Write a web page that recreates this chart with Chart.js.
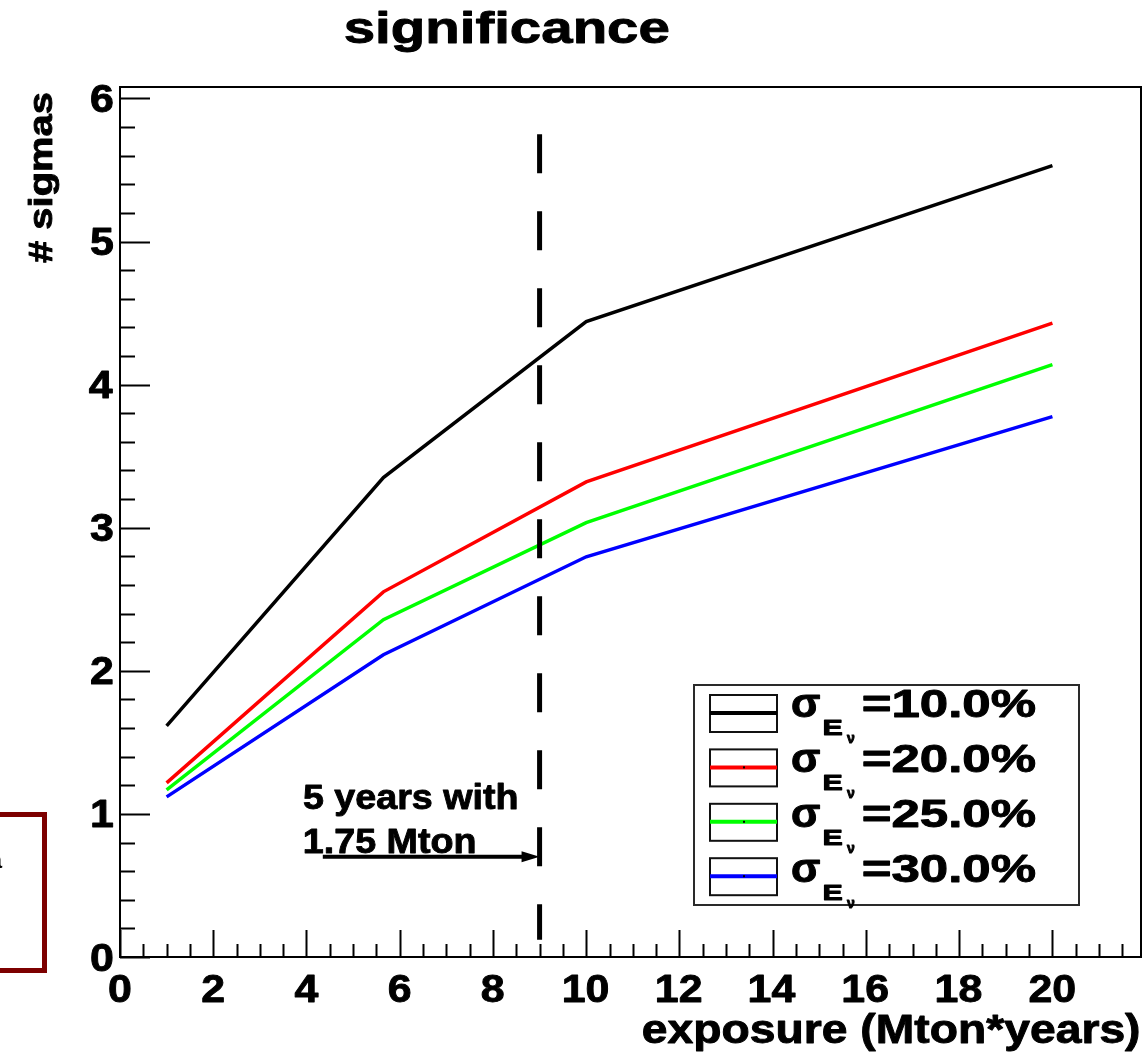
<!DOCTYPE html>
<html>
<head>
<meta charset="utf-8">
<title>significance</title>
<script src="https://cdn.jsdelivr.net/npm/chart.js@4.4.1/dist/chart.umd.min.js"></script>
<style>
  html, body { margin: 0; padding: 0; background: #ffffff; }
  #wrap { position: relative; width: 1144px; height: 1052px; overflow: hidden; background: #ffffff; }
  #c { position: absolute; left: 0; top: 0; }
  #note { position: absolute; left: -20px; top: 812px; width: 57px; height: 151px;
          border: 5px solid #7d0000; box-sizing: content-box; }
  #noteText { position: absolute; right: 1142px; top: 846px; font: bold 24px "Liberation Sans", Arial, sans-serif;
              color: #000; white-space: nowrap; }
</style>
</head>
<body>
<div id="wrap">
  <canvas id="c" width="1144" height="1052"></canvas>
  <div id="note"></div>
  <div id="noteText">a</div>
</div>
<script>
// exposure in Mton*years and the significance (# sigmas) for each energy resolution
const exposure = [1, 5.65, 10, 20];
const sigma10 = [1.615, 3.35, 4.44, 5.53];
const sigma20 = [1.217, 2.552, 3.32, 4.43];
const sigma25 = [1.168, 2.357, 3.035, 4.14];
const sigma30 = [1.119, 2.112, 2.797, 3.776];
const resolutionLabels = ['=10.0%', '=20.0%', '=25.0%', '=30.0%'];
const seriesColors = ['#000000', '#ff0000', '#00ff00', '#0000ff'];

// axis ticks
const xTickValues = [0, 2, 4, 6, 8, 10, 12, 14, 16, 18, 20];
const xTickLabels = ['0', '2', '4', '6', '8', '10', '12', '14', '16', '18', '20'];
const yTickValues = [0, 1, 2, 3, 4, 5, 6];
const yTickLabels = ['0', '1', '2', '3', '4', '5', '6'];

// reference exposure: 5 years with 1.75 Mton
const refExposure = 9;
const refSpan = [5.75, 0.12];
const arrowFrom = 4.35;
const arrowLevel = 0.70;

const FONT = '"Liberation Sans", Arial, Helvetica, sans-serif';

function toPoints(xs, ys) { return xs.map((x, i) => ({ x: x, y: ys[i] })); }

// fills and lightly strokes the text so it reads as heavy as the axis lines
function heavyFill(ctx, text) {
  ctx.fillStyle = '#000';
  ctx.strokeStyle = '#000';
  ctx.lineWidth = 0.9;
  ctx.lineJoin = 'round';
  ctx.fillText(text, 0, 0);
  ctx.strokeText(text, 0, 0);
}

// draws text horizontally stretched so its ink spans exactly `width` px from `left`
function inkText(ctx, text, left, baseline, width, size, weight) {
  ctx.save();
  ctx.font = (weight || 'bold') + ' ' + size + 'px ' + FONT;
  const m = ctx.measureText(text);
  const inkW = m.actualBoundingBoxLeft + m.actualBoundingBoxRight;
  const k = width / inkW;
  ctx.translate(left + m.actualBoundingBoxLeft * k, baseline);
  ctx.scale(k, 1);
  ctx.textAlign = 'left';
  ctx.textBaseline = 'alphabetic';
  heavyFill(ctx, text);
  ctx.restore();
}

// draws text with a fixed horizontal stretch, aligned by its ink box
function stretchText(ctx, text, x, baseline, size, k, align) {
  ctx.save();
  ctx.font = 'bold ' + size + 'px ' + FONT;
  const m = ctx.measureText(text);
  const inkW = (m.actualBoundingBoxLeft + m.actualBoundingBoxRight) * k;
  let left = x;
  if (align === 'center') left = x - inkW / 2;
  else if (align === 'right') left = x - inkW;
  ctx.translate(left + m.actualBoundingBoxLeft * k, baseline);
  ctx.scale(k, 1);
  ctx.textAlign = 'left';
  ctx.textBaseline = 'alphabetic';
  heavyFill(ctx, text);
  ctx.restore();
}

function digitStretch(ctx, size, targetInk) {
  ctx.save();
  ctx.font = 'bold ' + size + 'px ' + FONT;
  const m = ctx.measureText('0');
  ctx.restore();
  return targetInk / (m.actualBoundingBoxLeft + m.actualBoundingBoxRight);
}

const rootStyle = {
  id: 'rootStyle',
  afterDraw(chart) {
    const ctx = chart.ctx;
    const a = chart.chartArea;
    const xs = chart.scales.x;
    const ys = chart.scales.y;

    ctx.save();
    ctx.strokeStyle = '#000';
    ctx.lineCap = 'butt';

    // frame
    ctx.lineWidth = 2;
    ctx.strokeRect(a.left, a.top, a.right - a.left, a.bottom - a.top);

    // x ticks (inward, major every 2, minor every 0.5)
    ctx.beginPath();
    for (let v = 0; v <= xs.max + 1e-9; v += 0.5) {
      const px = Math.round(xs.getPixelForValue(v)) + 0.5;
      const major = Math.abs(v / 2 - Math.round(v / 2)) < 1e-6;
      const len = major ? 27 : 13;
      ctx.moveTo(px, a.bottom);
      ctx.lineTo(px, a.bottom - len);
    }
    // y ticks (inward, major every 1, minor every 0.2)
    for (let i = 0; i <= 30; i++) {
      const v = i * 0.2;
      if (v > ys.max) break;
      const py = Math.round(ys.getPixelForValue(v)) + 0.5;
      const major = i % 5 === 0;
      const len = major ? 30 : 15;
      ctx.moveTo(a.left, py);
      ctx.lineTo(a.left + len, py);
    }
    ctx.stroke();

    // tick labels
    const tickSize = 39;
    const kd = digitStretch(ctx, tickSize, 22);
    xTickValues.forEach((v, i) => {
      stretchText(ctx, xTickLabels[i], xs.getPixelForValue(v), a.bottom + 45, tickSize, kd, 'center');
    });
    yTickValues.forEach((v, i) => {
      stretchText(ctx, yTickLabels[i], a.left - 7, ys.getPixelForValue(v) + 13.5, tickSize, kd, 'right');
    });

    // title and axis titles
    inkText(ctx, 'significance', 345, 43, 323, 44);
    inkText(ctx, 'exposure (Mton*years)', 643, 1043, 496, 40);
    ctx.save();
    ctx.translate(52, 263);
    ctx.rotate(-Math.PI / 2);
    inkText(ctx, '# sigmas', 0, 0, 170, 34);
    ctx.restore();

    // annotation and arrow
    inkText(ctx, '5 years with', 304, 809, 213, 35);
    inkText(ctx, '1.75 Mton', 305, 853, 170, 35);
    const ax0 = xs.getPixelForValue(arrowFrom);
    const ax1 = xs.getPixelForValue(refExposure);
    const ay = ys.getPixelForValue(arrowLevel);
    ctx.strokeStyle = '#000';
    ctx.lineWidth = 4;
    ctx.beginPath();
    ctx.moveTo(ax0, ay);
    ctx.lineTo(ax1 - 14, ay);
    ctx.stroke();
    ctx.fillStyle = '#000';
    ctx.beginPath();
    ctx.moveTo(ax1, ay);
    ctx.lineTo(ax1 - 18, ay - 5.5);
    ctx.lineTo(ax1 - 18, ay + 5.5);
    ctx.closePath();
    ctx.fill();

    // legend
    ctx.fillStyle = '#fff';
    ctx.fillRect(694, 685, 385, 220);
    ctx.lineWidth = 2;
    ctx.strokeStyle = '#2a2a2a';
    ctx.strokeRect(694, 685, 385, 220);
    for (let i = 0; i < 4; i++) {
      const bt = 695 + 54.4 * i;
      ctx.lineWidth = 2;
      ctx.strokeStyle = '#111';
      ctx.strokeRect(710, bt, 67, 37);
      const cy = bt + 18;
      ctx.strokeStyle = seriesColors[i];
      ctx.lineWidth = 4;
      ctx.beginPath();
      ctx.moveTo(710, cy);
      ctx.lineTo(777, cy);
      ctx.stroke();
      if (i > 0) {
        ctx.fillStyle = '#000';
        ctx.fillRect(743, cy - 1, 2, 2);
      }
      const base = 717 + 55 * i;
      inkText(ctx, '\u03C3', 792, base, 28, 40);
      inkText(ctx, 'E', 824, base + 18, 18, 22);
      inkText(ctx, '\u03BD', 847, base + 26, 8, 14);
      inkText(ctx, resolutionLabels[i], 863, base, 172, 38);
    }
    ctx.restore();
  }
};

const series = [sigma10, sigma20, sigma25, sigma30].map((ys, i) => ({
  label: resolutionLabels[i],
  data: toPoints(exposure, ys),
  borderColor: seriesColors[i],
  backgroundColor: seriesColors[i],
  borderWidth: 3.5,
  pointRadius: 0,
  tension: 0,
  fill: false
}));

new Chart(document.getElementById('c').getContext('2d'), {
  type: 'line',
  data: {
    datasets: [
      {
        label: '5 years with 1.75 Mton',
        data: [{ x: refExposure, y: refSpan[0] }, { x: refExposure, y: refSpan[1] }],
        borderColor: '#000',
        borderWidth: 5,
        borderDash: [39, 38],
        borderCapStyle: 'butt',
        pointRadius: 0,
        fill: false
      },
      ...series
    ]
  },
  options: {
    responsive: false,
    animation: false,
    devicePixelRatio: 1,
    layout: { padding: { left: 120, top: 87, right: 3, bottom: 95 } },
    scales: {
      x: { type: 'linear', min: 0, max: 21.9, display: false },
      y: { type: 'linear', min: 0, max: 6.08, display: false }
    },
    plugins: { legend: { display: false }, tooltip: { enabled: false }, title: { display: false } }
  },
  plugins: [rootStyle]
});
</script>
</body>
</html>
